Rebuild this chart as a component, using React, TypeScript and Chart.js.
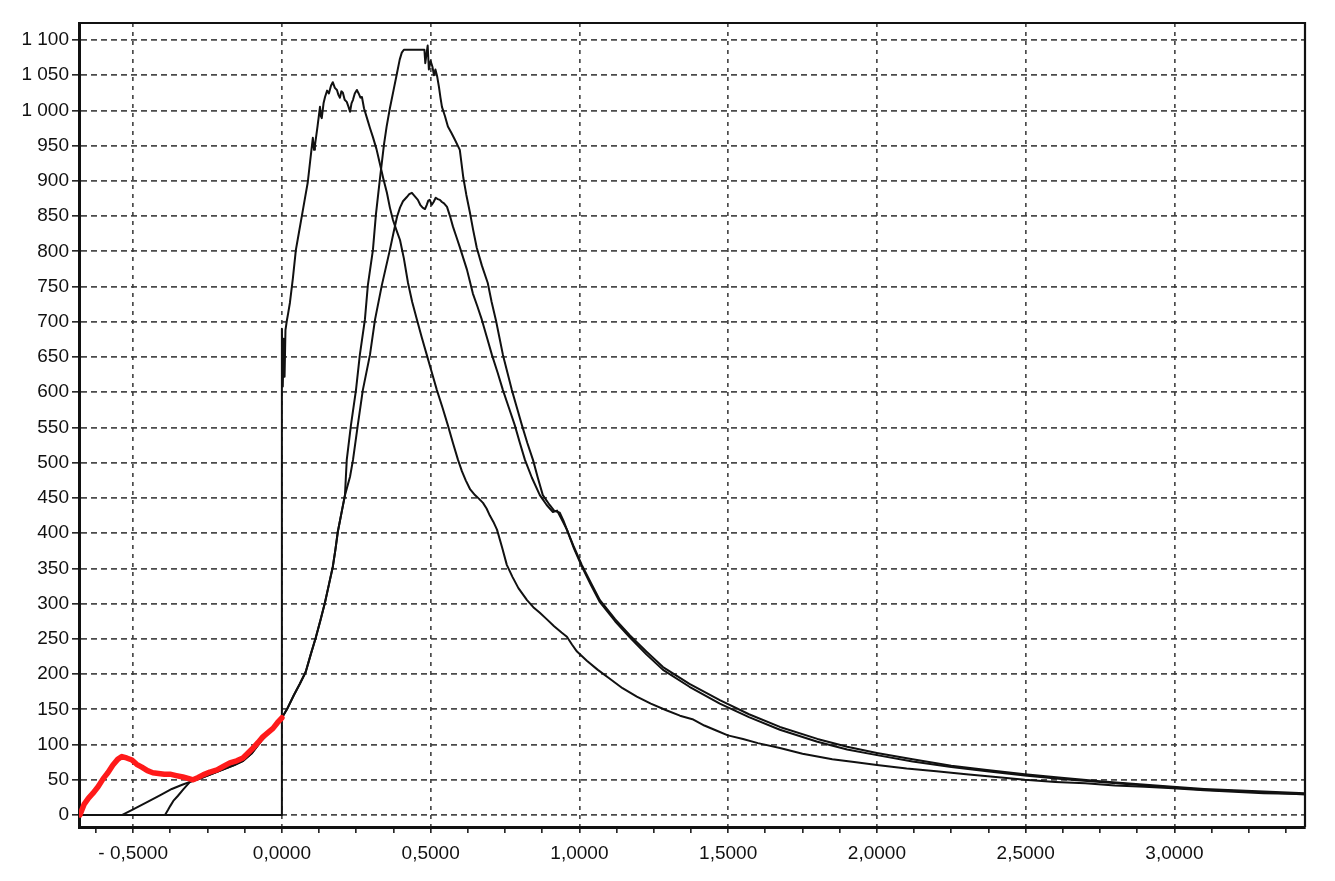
import React, { useEffect, useRef } from 'react';
import { Chart, registerables } from 'chart.js';

Chart.register(...registerables);

// ---- axis ranges ----
const X_MIN = -0.682;
const X_MAX = 3.439;
const Y_MIN = -17;
const Y_MAX = 1124;

// ---- tick labels ----
const xLabelValues = [-0.5, 0, 0.5, 1, 1.5, 2, 2.5, 3];
const xLabelTexts = ['- 0,5000', '0,0000', '0,5000', '1,0000', '1,5000', '2,0000', '2,5000', '3,0000'];
const yTickValues = [0, 50, 100, 150, 200, 250, 300, 350, 400, 450, 500, 550, 600, 650, 700, 750, 800, 850, 900, 950, 1000, 1050, 1100];
const yTickLabels = ['0', '50', '100', '150', '200', '250', '300', '350', '400', '450', '500', '550', '600', '650', '700', '750', '800', '850', '900', '950', '1 000', '1 050', '1 100'];

// ---- series (x, y) ----
const redCurve: [number, number][] = [
  [-0.679, 0], [-0.665, 15], [-0.65, 24], [-0.635, 31], [-0.618, 40], [-0.6, 52], [-0.585, 60], [-0.568, 71],
  [-0.552, 79], [-0.538, 83], [-0.522, 81], [-0.504, 78], [-0.488, 72], [-0.471, 68], [-0.452, 63], [-0.434, 60],
  [-0.415, 59], [-0.395, 58], [-0.376, 58], [-0.355, 56], [-0.333, 54], [-0.315, 52], [-0.299, 50], [-0.283, 53],
  [-0.265, 57], [-0.242, 61], [-0.218, 64], [-0.197, 69], [-0.175, 74], [-0.152, 77], [-0.131, 81], [-0.114, 88],
  [-0.097, 95], [-0.08, 103], [-0.064, 111], [-0.047, 117], [-0.03, 123], [-0.015, 131], [0, 138],
];

const curveA: [number, number][] = [
  [-0.682, 0], [-0.0005, 0], [0, 690], [0.003, 608], [0.006, 676], [0.009, 622], [0.012, 688], [0.016, 700],
  [0.021, 712], [0.027, 727], [0.037, 762], [0.047, 802], [0.057, 826], [0.067, 850], [0.077, 874], [0.087, 898],
  [0.095, 928], [0.104, 961], [0.108, 944], [0.111, 950], [0.12, 978], [0.128, 1005], [0.131, 992], [0.134, 989],
  [0.14, 1010], [0.145, 1019], [0.152, 1028], [0.158, 1024], [0.165, 1035], [0.171, 1040], [0.178, 1032],
  [0.185, 1029], [0.19, 1022], [0.195, 1018], [0.2, 1027], [0.205, 1025], [0.211, 1015], [0.218, 1012],
  [0.224, 1005], [0.229, 998], [0.234, 1010], [0.239, 1015], [0.245, 1024], [0.252, 1029], [0.258, 1024],
  [0.264, 1018], [0.269, 1019], [0.276, 1003], [0.286, 989], [0.296, 975], [0.306, 962], [0.318, 945],
  [0.329, 925], [0.341, 903], [0.353, 883], [0.363, 862], [0.373, 845], [0.385, 830], [0.397, 816], [0.41, 790],
  [0.424, 755], [0.438, 728], [0.454, 703], [0.47, 678], [0.487, 653], [0.504, 628], [0.521, 603], [0.54, 578],
  [0.558, 553], [0.575, 528], [0.592, 504], [0.605, 488], [0.618, 475], [0.633, 462], [0.649, 454], [0.662, 449],
  [0.676, 443], [0.688, 435], [0.699, 425], [0.711, 416], [0.723, 405], [0.74, 380], [0.756, 355], [0.775, 338],
  [0.795, 322], [0.824, 305], [0.845, 295], [0.867, 287], [0.89, 278], [0.915, 268], [0.94, 259], [0.958, 253],
  [0.975, 242], [0.992, 232], [1.025, 219], [1.062, 206], [1.1, 194], [1.145, 180], [1.193, 168], [1.24, 158],
  [1.29, 149], [1.338, 141], [1.38, 136], [1.42, 127], [1.46, 120], [1.499, 113], [1.55, 108], [1.6, 102],
  [1.674, 95], [1.75, 87], [1.85, 79], [1.93, 75], [2.0, 71], [2.1, 66], [2.2, 62], [2.3, 58], [2.4, 54],
  [2.497, 50], [2.6, 47], [2.7, 45], [2.8, 42], [2.9, 40], [2.995, 38], [3.1, 35], [3.2, 33], [3.3, 31], [3.439, 30],
];

const curveBLead: [number, number][] = [
  [-0.682, 0], [-0.538, 0], [-0.5, 8], [-0.45, 19], [-0.41, 28], [-0.37, 37], [-0.335, 43],
];

const curveCLead: [number, number][] = [
  [-0.682, 0], [-0.393, 0], [-0.383, 7], [-0.375, 13], [-0.365, 20], [-0.35, 27], [-0.33, 37],
];

const commonRise: [number, number][] = [
  [-0.309, 47], [-0.28, 51], [-0.25, 56], [-0.22, 61], [-0.19, 66], [-0.16, 71], [-0.13, 77], [-0.1, 88],
  [-0.07, 105], [-0.04, 118], [-0.02, 128], [0, 138], [0.017, 150], [0.04, 170], [0.06, 186], [0.08, 203],
  [0.097, 228], [0.114, 252], [0.13, 277], [0.145, 302], [0.158, 327], [0.171, 352], [0.18, 377], [0.188, 402],
  [0.2, 428], [0.212, 454],
];

const curveBUpper: [number, number][] = [
  [0.218, 504], [0.232, 553], [0.249, 603], [0.262, 653], [0.279, 703], [0.289, 752], [0.306, 802], [0.316, 852],
  [0.329, 901], [0.343, 951], [0.352, 977], [0.363, 1003], [0.375, 1028], [0.387, 1053], [0.396, 1072],
  [0.403, 1082], [0.41, 1086], [0.45, 1086], [0.479, 1086], [0.482, 1067], [0.486, 1080], [0.49, 1092],
  [0.494, 1058], [0.5, 1070], [0.506, 1062], [0.511, 1050], [0.516, 1058], [0.522, 1048], [0.528, 1033],
  [0.533, 1018], [0.538, 1005], [0.548, 992], [0.558, 977], [0.57, 968], [0.582, 958], [0.598, 944], [0.61, 904],
  [0.62, 880], [0.632, 855], [0.643, 830], [0.655, 805], [0.672, 780], [0.692, 755], [0.705, 728], [0.719, 703],
  [0.731, 678], [0.743, 653], [0.758, 628], [0.773, 603], [0.79, 578], [0.807, 553], [0.825, 528], [0.844, 504],
  [0.86, 479], [0.877, 454], [0.9, 440], [0.915, 432], [0.934, 429], [0.946, 418], [0.958, 405], [0.982, 380],
  [1.008, 355], [1.038, 330], [1.069, 305], [1.12, 278], [1.17, 255], [1.225, 232], [1.281, 210], [1.37, 186],
  [1.472, 163], [1.57, 143], [1.674, 125], [1.8, 108], [1.9, 97], [2.0, 88], [2.12, 79], [2.25, 70], [2.37, 64],
  [2.497, 58], [2.62, 53], [2.75, 48], [2.87, 44], [2.995, 40], [3.1, 37], [3.2, 35], [3.32, 33], [3.439, 31],
];

const curveCUpper: [number, number][] = [
  [0.229, 480], [0.239, 504], [0.255, 553], [0.272, 603], [0.296, 653], [0.313, 703], [0.336, 752], [0.363, 802],
  [0.375, 826], [0.387, 849], [0.397, 862], [0.407, 871], [0.42, 877], [0.428, 881], [0.437, 883], [0.447, 878],
  [0.457, 873], [0.465, 866], [0.473, 862], [0.481, 860], [0.487, 866], [0.492, 872], [0.497, 873], [0.504, 866],
  [0.51, 870], [0.517, 876], [0.524, 874], [0.531, 873], [0.538, 870], [0.545, 868], [0.555, 863], [0.565, 850],
  [0.575, 835], [0.587, 820], [0.598, 806], [0.61, 790], [0.622, 774], [0.632, 757], [0.642, 740], [0.657, 722],
  [0.672, 703], [0.689, 678], [0.706, 653], [0.725, 628], [0.743, 603], [0.763, 578], [0.783, 553], [0.8, 528],
  [0.817, 504], [0.84, 479], [0.867, 454], [0.89, 440], [0.911, 430], [0.925, 432], [0.94, 420], [0.958, 405],
  [0.982, 378], [1.008, 353], [1.038, 327], [1.069, 302], [1.12, 275], [1.17, 252], [1.225, 228], [1.281, 206],
  [1.37, 182], [1.472, 158], [1.57, 139], [1.674, 121], [1.8, 104], [1.9, 93], [2.0, 85], [2.12, 76], [2.25, 68],
  [2.37, 62], [2.497, 56], [2.62, 51], [2.75, 47], [2.87, 43], [2.995, 39], [3.1, 36], [3.2, 34], [3.32, 32],
  [3.439, 29],
];

const FONT = { family: '"Liberation Sans", Arial, sans-serif', size: 19 };
const TEXT = '#111111';
const GRID = 'rgba(55,55,55,0.9)';
const INK = '#111111';
const RED = '#ff1a1a';

const xTickValues = Array.from({ length: 33 }, (_, i) => -0.625 + i * 0.125);

function majorIndex(v: number): number {
  return xLabelValues.findIndex((m) => Math.abs(m - v) < 1e-9);
}

const toPts = (arr: [number, number][]) => arr.map(([x, y]) => ({ x, y }));

export default function App() {
  const ref = useRef<HTMLCanvasElement | null>(null);

  useEffect(() => {
    document.body.style.margin = '0';
    const canvas = ref.current;
    if (!canvas) return;

    const frame = {
      id: 'frame',
      afterDraw(chart: any) {
        const { ctx, chartArea: a } = chart;
        ctx.save();
        ctx.strokeStyle = INK;
        ctx.lineWidth = 2.2;
        ctx.beginPath();
        ctx.moveTo(a.left, a.top);
        ctx.lineTo(a.right, a.top);
        ctx.lineTo(a.right, a.bottom);
        ctx.stroke();
        ctx.restore();
      },
    };

    const line = (data: [number, number][], color: string, width: number, order: number) => ({
      data: toPts(data),
      borderColor: color,
      backgroundColor: color,
      borderWidth: width,
      pointRadius: 0,
      tension: 0,
      fill: false,
      order,
      borderJoinStyle: 'round' as const,
      borderCapStyle: 'round' as const,
    });

    const chart = new Chart(canvas, {
      type: 'line',
      data: {
        datasets: [
          line(redCurve, RED, 5.5, 0),
          line(curveA, INK, 2, 1),
          line([...curveBLead, ...commonRise, ...curveBUpper], INK, 2, 1),
          line([...curveCLead, ...commonRise, ...curveCUpper], INK, 2, 1),
        ],
      },
      options: {
        animation: false,
        responsive: false,
        maintainAspectRatio: false,
        events: [],
        layout: { padding: { top: 23, right: 30, left: 0, bottom: 0 } },
        plugins: { legend: { display: false }, tooltip: { enabled: false } },
        scales: {
          x: {
            type: 'linear',
            min: X_MIN,
            max: X_MAX,
            afterBuildTicks: (s: any) => {
              s.ticks = xTickValues.map((v) => ({ value: v }));
            },
            afterFit: (s: any) => {
              s.height = 54;
            },
            ticks: {
              autoSkip: false,
              maxRotation: 0,
              minRotation: 0,
              padding: 9,
              color: TEXT,
              font: FONT,
              callback: (v: any) => {
                const i = majorIndex(Number(v));
                return i >= 0 ? xLabelTexts[i] : '';
              },
            },
            grid: {
              color: (c: any) => (c.tick && majorIndex(c.tick.value) >= 0 ? GRID : 'rgba(0,0,0,0)'),
              lineWidth: 1.7,
              tickColor: INK,
              tickLength: 6,
              tickWidth: 1.5,
            },
            border: { display: true, color: INK, width: 3, dash: [4, 5] },
          },
          y: {
            type: 'linear',
            min: Y_MIN,
            max: Y_MAX,
            afterBuildTicks: (s: any) => {
              s.ticks = yTickValues.map((v) => ({ value: v }));
            },
            afterFit: (s: any) => {
              s.width = 79;
            },
            ticks: {
              autoSkip: false,
              padding: 3,
              color: TEXT,
              font: FONT,
              callback: (v: any) => {
                const i = yTickValues.indexOf(Number(v));
                return i >= 0 ? yTickLabels[i] : '';
              },
            },
            grid: {
              color: GRID,
              lineWidth: 1.7,
              tickColor: INK,
              tickLength: 7,
              tickWidth: 1.5,
            },
            border: { display: true, color: INK, width: 3, dash: [6, 4] },
          },
        },
      },
      plugins: [frame],
    } as any);

    return () => chart.destroy();
  }, []);

  return (
    <div style={{ position: 'absolute', left: 0, top: 0, width: 1335, height: 881, background: '#fff' }}>
      <canvas ref={ref} width={1335} height={881} style={{ display: 'block', width: 1335, height: 881 }} />
    </div>
  );
}
